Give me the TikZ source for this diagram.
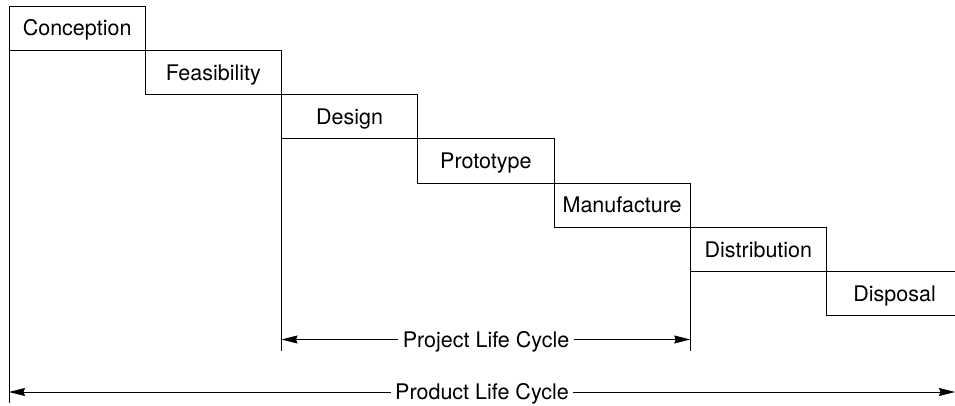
\documentclass[tikz,border=0pt]{standalone}
\usepackage{fontspec}
\setmainfont{TeX Gyre Heros}
\usetikzlibrary{positioning,arrows.meta}

\begin{document}
\begin{tikzpicture}[x=1pt, y=-1pt, line width=0.9pt,
    every node/.style={font=\fontsize{21.5}{25}\selectfont, text height=15.5pt, text depth=0pt},
    stage/.style={draw, minimum width=136.25pt, minimum height=44.25pt, inner sep=0pt, outer sep=0pt},
    arrow/.style={-{Stealth[length=16pt, width=8pt, inset=1.5pt]}, line width=0.9pt},
]
\path[use as bounding box, clip] (0,0) rectangle (955,406);

\node[stage, anchor=north west] (conc) at (9,6) {Conception};
\node[stage, below right=0pt and 0pt of conc] (feas) {Feasibility};
\node[stage, below right=0pt and 0pt of feas] (desi) {Design};
\node[stage, below right=0pt and 0pt of desi] (prot) {Prototype};
\node[stage, below right=0pt and 0pt of prot] (manu) {Manufacture};
\node[stage, below right=0pt and 0pt of manu] (dist) {Distribution};
\node[stage, below right=0pt and 0pt of dist] (disp) {Disposal};

% ticks
\draw (conc.south west) -- (conc.south west |- 0,403);
\draw (desi.south west) -- (desi.south west |- 0,351);
\draw (dist.south west) -- (dist.south west |- 0,351);

% project life cycle
\coordinate (projL) at (desi.south west |- 0,339.5);
\coordinate (projR) at (dist.south west |- 0,339.5);
\node[inner sep=4pt] (projtxt) at (486,339.5) {Project Life Cycle};
\draw[arrow] (projtxt) -- (projL);
\draw[arrow] (projtxt) -- (projR);

% product life cycle
\coordinate (prodL) at (conc.south west |- 0,392);
\coordinate (prodR) at (955,392);
\node[inner sep=4pt] (prodtxt) at (482,392) {Product Life Cycle};
\draw[arrow] (prodtxt) -- (prodL);
\draw[arrow] (prodtxt) -- (prodR);
\end{tikzpicture}
\end{document}
